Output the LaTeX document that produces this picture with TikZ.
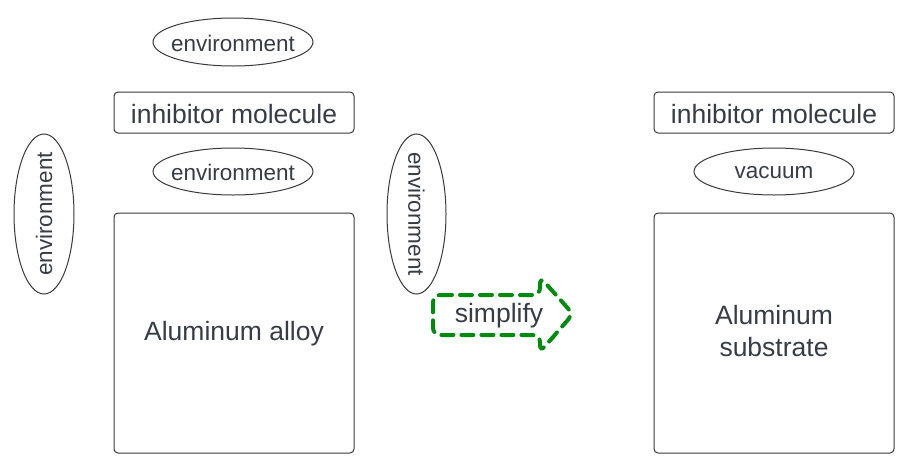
\documentclass[tikz,border=0pt]{standalone}
\usepackage{fontspec}
\setmainfont{Liberation Sans}
\usetikzlibrary{shapes.geometric}
\definecolor{txt}{HTML}{373D47}
\definecolor{edge}{HTML}{3A3A3A}
\definecolor{grn}{HTML}{008A0E}
\tikzset{
  big/.style={font=\fontsize{26.5}{32}\selectfont, text=txt},
  small/.style={font=\fontsize{22.5}{26}\selectfont, text=txt},
  rbox/.style={draw=edge, line width=1pt, rounded corners=4pt, inner sep=0pt},
  ell/.style={draw=edge, line width=1pt, ellipse, inner sep=0pt},
}
\begin{document}
\begin{tikzpicture}[x=1pt,y=-1pt]
\useasboundingbox[fill=white] (0,0) rectangle (913,469);
% left group
\node[ell, minimum width=160, minimum height=48] (envtop) at (233,42) {};
\node[small] (envtopT) at (233,43) {environment};
\node[rbox, minimum width=240, minimum height=41] (inhL) at (234,112.5) {};
\node[big] (inhLT) at (234,114) {inhibitor molecule};
\node[ell, minimum width=160, minimum height=47] (envmid) at (233,171.5) {};
\node[small] (envmidT) at (233,172.5) {environment};
\node[rbox, minimum width=240, minimum height=240] (alloy) at (234,333) {};
\node[big] (alloyT) at (234,334) {Aluminum alloy};
\node[ell, minimum width=60, minimum height=160] (envleft) at (44,214) {};
\node[small, rotate=90] (envleftT) at (envleft) {environment};
\node[ell, minimum width=59, minimum height=160] (envright) at (416.5,214) {};
\node[small, rotate=-90] (envrightT) at (envright) {environment};
% arrow
\draw[grn, line width=4pt, dashed, dash pattern=on 12pt off 8pt, rounded corners=7pt, line cap=round]
  (433,295) -- (540,295) -- (540,277) -- (573,314) -- (540,352) -- (540,335) -- (433,335) -- cycle;
\node[big] (simp) at (499,316) {simplify};
% right group
\node[rbox, minimum width=240, minimum height=41] (inhR) at (774,112.5) {};
\node[big] (inhRT) at (774,114) {inhibitor molecule};
\node[ell, minimum width=160, minimum height=47] (vac) at (774,171.5) {};
\node[small] (vacT) at (774,172.5) {vacuum};
\node[rbox, minimum width=240, minimum height=240] (sub) at (774,333) {};
\node[big, align=center] (subT) at (774,331) {Aluminum\\substrate};
\end{tikzpicture}
\end{document}
